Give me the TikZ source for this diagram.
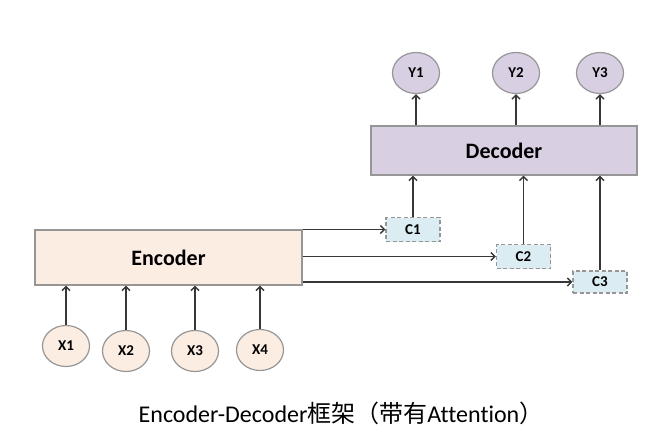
\documentclass[tikz,border=0pt]{standalone}
\usepackage{fontspec}
\setmainfont[Ligatures=NoCommon]{Carlito}
\newfontfamily\cjk{Noto Sans CJK SC}
\usetikzlibrary{arrows.meta,shapes.geometric}
\definecolor{encfill}{RGB}{252,237,227}
\definecolor{decfill}{RGB}{217,207,227}
\definecolor{ctxfill}{RGB}{219,237,243}
\definecolor{edgegray}{RGB}{150,150,150}
\definecolor{linegray}{RGB}{55,55,55}

\begin{document}
\begin{tikzpicture}[x=1pt,y=-1pt,
  block/.style={draw=edgegray,line width=1.2pt,font=\bfseries\fontsize{22}{26}\selectfont},
  unit/.style={ellipse,draw=edgegray,line width=1.2pt,minimum width=47pt,minimum height=41pt,
    inner sep=0pt,font=\bfseries\fontsize{15}{18}\selectfont},
  ctx/.style={draw=edgegray,dash pattern=on 4pt off 2.5pt,line width=1.2pt,fill=ctxfill,minimum width=54pt,
    minimum height=24pt,inner sep=0pt,font=\bfseries\fontsize{15}{18}\selectfont},
  arr/.style={linegray,line width=1.5pt,-{Straight Barb[length=4pt,width=8pt]}}]
  \useasboundingbox (0,0) rectangle (656,441);
  % encoder side
  \node[block,fill=encfill,minimum width=267pt,minimum height=55pt] (enc) at (168.5,257.5) {Encoder};
  \node[unit,fill=encfill] (x1) at (66,346) {X1};
  \node[unit,fill=encfill] (x2) at (126,351) {X2};
  \node[unit,fill=encfill] (x3) at (195,351) {X3};
  \node[unit,fill=encfill] (x4) at (260,350) {X4};
  \foreach \n in {x1,x2,x3,x4}
    \draw[arr] (\n.north) -- (\n |- enc.south);
  % context vectors
  \node[ctx] (c1) at (413,229.5) {C1};
  \node[ctx] (c2) at (523.5,256.5) {C2};
  \node[ctx,minimum height=22pt] (c3) at (600,282) {C3};
  \foreach \n in {c1,c2,c3}
    \draw[arr] (\n.west -| enc.east) -- (\n.west);
  % decoder side
  \node[block,fill=decfill,minimum width=266pt,minimum height=49pt] (dec) at (504,150.5) {Decoder};
  \node[unit,fill=decfill] (y1) at (416,73) {Y1};
  \node[unit,fill=decfill] (y2) at (516,73) {Y2};
  \node[unit,fill=decfill] (y3) at (600,73) {Y3};
  \foreach \n in {c1,c2,c3}
    \draw[arr] (\n.north) -- (\n |- dec.south);
  \foreach \n in {y1,y2,y3}
    \draw[arr] (\n |- dec.north) -- (\n.south);
  \node[font=\fontsize{24}{28}\selectfont] (cap) at (341,413)
    {Encoder-Decoder{\cjk 框架（带有}Attention{\cjk ）}};
\end{tikzpicture}
\end{document}
